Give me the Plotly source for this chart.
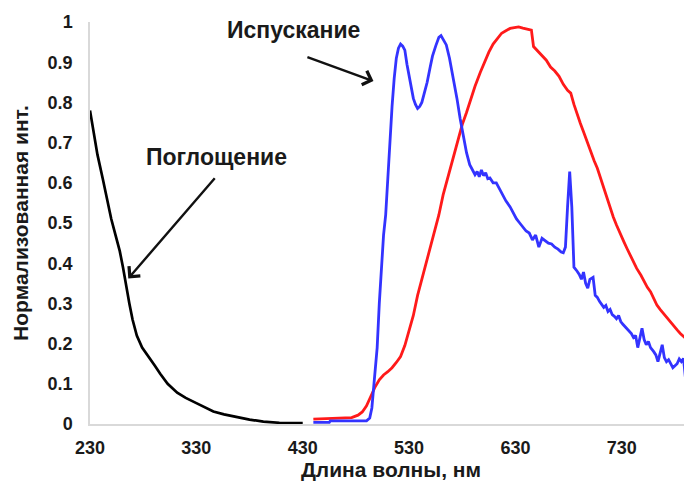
import plotly.graph_objects as go

# ---------------- data ----------------
abs_nm = [230, 233, 237, 242, 246, 250, 254, 258, 261, 264, 267, 270, 274, 279, 286, 291, 296, 303, 312,
          320, 330, 338, 346, 356, 368, 380, 393, 408, 425, 430]
abs_val = [0.78, 0.73, 0.67, 0.61, 0.56, 0.51, 0.47, 0.43, 0.39, 0.34, 0.30, 0.26, 0.22, 0.19, 0.165, 0.145,
           0.125, 0.10, 0.078, 0.065, 0.052, 0.042, 0.031, 0.024, 0.017, 0.011, 0.006, 0.003, 0.002, 0.002]

em_nm = [440, 455, 456, 470, 485, 490, 493, 495, 497, 500, 502, 504, 506, 508, 510, 512, 514, 516, 518,
         520, 522, 524, 526, 528, 530, 532, 534, 536, 538, 540, 542, 544, 547, 550, 552, 555, 558, 560,
         562, 565, 568, 571, 575, 578, 581, 584, 587, 590, 592, 594, 596, 598, 600, 602, 604, 606, 609,
         612, 615, 618, 621, 625, 628, 631, 634, 637, 640, 643, 646, 649, 652, 655, 658, 661, 664, 667,
         670, 673, 675, 677, 679, 681, 683, 685, 688, 690, 692, 694, 696, 698, 700, 703, 705, 707, 709,
         711, 713, 715, 717, 719, 721, 723, 725, 727, 729, 731, 733, 735, 737, 739, 741, 743, 745, 747,
         749, 751, 753, 755, 757, 760, 762, 764, 766, 768, 770, 772, 774, 776, 778, 780, 782, 784, 786,
         788, 790, 792, 794, 796]
em_val = [0.004, 0.004, 0.008, 0.008, 0.008, 0.008, 0.015, 0.04, 0.10, 0.19, 0.30, 0.40, 0.47, 0.52,
          0.62, 0.72, 0.79, 0.86, 0.91, 0.935, 0.945, 0.940, 0.930, 0.895, 0.865, 0.835, 0.81, 0.795,
          0.785, 0.790, 0.800, 0.82, 0.85, 0.89, 0.915, 0.940, 0.962, 0.966, 0.958, 0.943, 0.91, 0.87,
          0.81, 0.76, 0.72, 0.675, 0.645, 0.63, 0.62, 0.628, 0.615, 0.632, 0.618, 0.625, 0.610, 0.612,
          0.600, 0.60, 0.585, 0.57, 0.555, 0.54, 0.525, 0.51, 0.50, 0.49, 0.48, 0.475, 0.458, 0.47, 0.44,
          0.462, 0.455, 0.45, 0.448, 0.44, 0.435, 0.428, 0.426, 0.44, 0.54, 0.628, 0.54, 0.39, 0.38,
          0.372, 0.36, 0.378, 0.35, 0.338, 0.36, 0.365, 0.32, 0.315, 0.305, 0.298, 0.29, 0.295, 0.28,
          0.285, 0.272, 0.268, 0.262, 0.27, 0.255, 0.248, 0.242, 0.236, 0.232, 0.225, 0.215, 0.22, 0.19,
          0.215, 0.238, 0.21, 0.197, 0.205, 0.19, 0.18, 0.172, 0.155, 0.18, 0.197, 0.165, 0.155, 0.16,
          0.148, 0.14, 0.145, 0.15, 0.162, 0.155, 0.163, 0.11, 0.14, 0.128, 0.134]

exc_nm = [440, 455, 470, 476, 482, 486, 490, 494, 498, 502, 506, 510, 514, 518, 522, 526, 530, 534, 538,
          543, 548, 553, 558, 562, 567, 572, 576, 580, 584, 588, 592, 597, 601, 605, 609, 613, 617, 621,
          625, 629, 633, 637, 641, 645, 647, 651, 655, 659, 663, 667, 671, 675, 679, 682, 685, 688, 691,
          694, 697, 700, 704, 707, 710, 713, 716, 719, 722, 725, 728, 732, 735, 738, 741, 744, 748, 751,
          754, 757, 760, 763, 766, 769, 773, 776, 779, 782, 785, 788, 792, 796]
exc_val = [0.012, 0.013, 0.014, 0.016, 0.022, 0.030, 0.045, 0.068, 0.092, 0.110, 0.122, 0.130, 0.140,
           0.153, 0.168, 0.195, 0.23, 0.27, 0.32, 0.37, 0.42, 0.47, 0.52, 0.57, 0.62, 0.67, 0.71, 0.745,
           0.775, 0.81, 0.84, 0.875, 0.90, 0.925, 0.945, 0.96, 0.972, 0.978, 0.984, 0.986, 0.988, 0.985,
           0.982, 0.980, 0.939, 0.928, 0.918, 0.905, 0.888, 0.878, 0.865, 0.845, 0.830, 0.823, 0.795,
           0.770, 0.748, 0.727, 0.705, 0.680, 0.655, 0.636, 0.612, 0.588, 0.562, 0.537, 0.515, 0.495,
           0.475, 0.453, 0.436, 0.420, 0.404, 0.387, 0.370, 0.354, 0.340, 0.329, 0.313, 0.296, 0.285,
           0.275, 0.262, 0.254, 0.244, 0.234, 0.225, 0.217, 0.208, 0.200]

x_tick_vals = [230, 330, 430, 530, 630, 730]
y_tick_vals = [0, 0.1, 0.2, 0.3, 0.4, 0.5, 0.6, 0.7, 0.8, 0.9, 1]
y_tick_text = ["0", "0.1", "0.2", "0.3", "0.4", "0.5", "0.6", "0.7", "0.8", "0.9", "1"]

x_title = "Длина волны, нм"
y_title = "Нормализованная инт."
label_abs = "Поглощение"
label_em = "Испускание"

# ---------------- figure ----------------
FONT = "Arial, Liberation Sans, sans-serif"
fig = go.Figure()
fig.add_trace(go.Scatter(x=abs_nm, y=abs_val, mode="lines",
                         line=dict(color="#000000", width=2.7), name="abs"))
fig.add_trace(go.Scatter(x=exc_nm, y=exc_val, mode="lines",
                         line=dict(color="#ff1a1a", width=2.8), name="red"))
fig.add_trace(go.Scatter(x=em_nm, y=em_val, mode="lines",
                         line=dict(color="#3333ff", width=2.8), name="blue"))

# annotations: text + arrows (data coordinates)
fig.add_annotation(x=349, y=0.664, xref="x", yref="y", text=label_abs, showarrow=False,
                   font=dict(family=FONT, size=23, color="#1a1a1a", weight="bold"))
fig.add_annotation(x=266, y=0.362, ax=348.5, ay=0.615, xref="x", yref="y", axref="x", ayref="y",
                   text="", showarrow=True, arrowhead=4, arrowsize=1.2, arrowwidth=2.4,
                   arrowcolor="#111111", standoff=0, startstandoff=0)
fig.add_annotation(x=421, y=0.98, xref="x", yref="y", text=label_em, showarrow=False,
                   font=dict(family=FONT, size=23, color="#1a1a1a", weight="bold"))
fig.add_annotation(x=496.5, y=0.853, ax=433, ay=0.914, xref="x", yref="y", axref="x", ayref="y",
                   text="", showarrow=True, arrowhead=4, arrowsize=1.2, arrowwidth=2.4,
                   arrowcolor="#111111", standoff=0, startstandoff=0)

# the page body has an 8px margin, so the figure is sized/offset to compensate
fig.update_layout(
    width=684, height=473,
    margin=dict(l=82, r=0, t=14, b=57, pad=0),
    paper_bgcolor="white", plot_bgcolor="white",
    showlegend=False,
    font=dict(family=FONT, color="#1a1a1a"),
)
fig.update_xaxes(
    range=[230, 796], tickvals=x_tick_vals, ticks="", showgrid=False, zeroline=False,
    showline=True, linecolor="#d9d9d9", linewidth=1.5,
    tickfont=dict(family=FONT, size=18, color="#1a1a1a", weight="bold"),
    ticklabelstandoff=7,
    title=dict(text=x_title, font=dict(family=FONT, size=21, color="#1a1a1a", weight="bold"), standoff=8),
)
fig.update_yaxes(
    range=[0, 1], tickvals=y_tick_vals, ticktext=y_tick_text, ticks="", showgrid=False, zeroline=False,
    showline=True, linecolor="#d9d9d9", linewidth=1.5,
    tickfont=dict(family=FONT, size=18, color="#1a1a1a", weight="bold"),
    ticklabelstandoff=12,
    title=dict(text=y_title, font=dict(family=FONT, size=21, color="#1a1a1a", weight="bold"), standoff=13),
)

fig.write_html("out.html")
